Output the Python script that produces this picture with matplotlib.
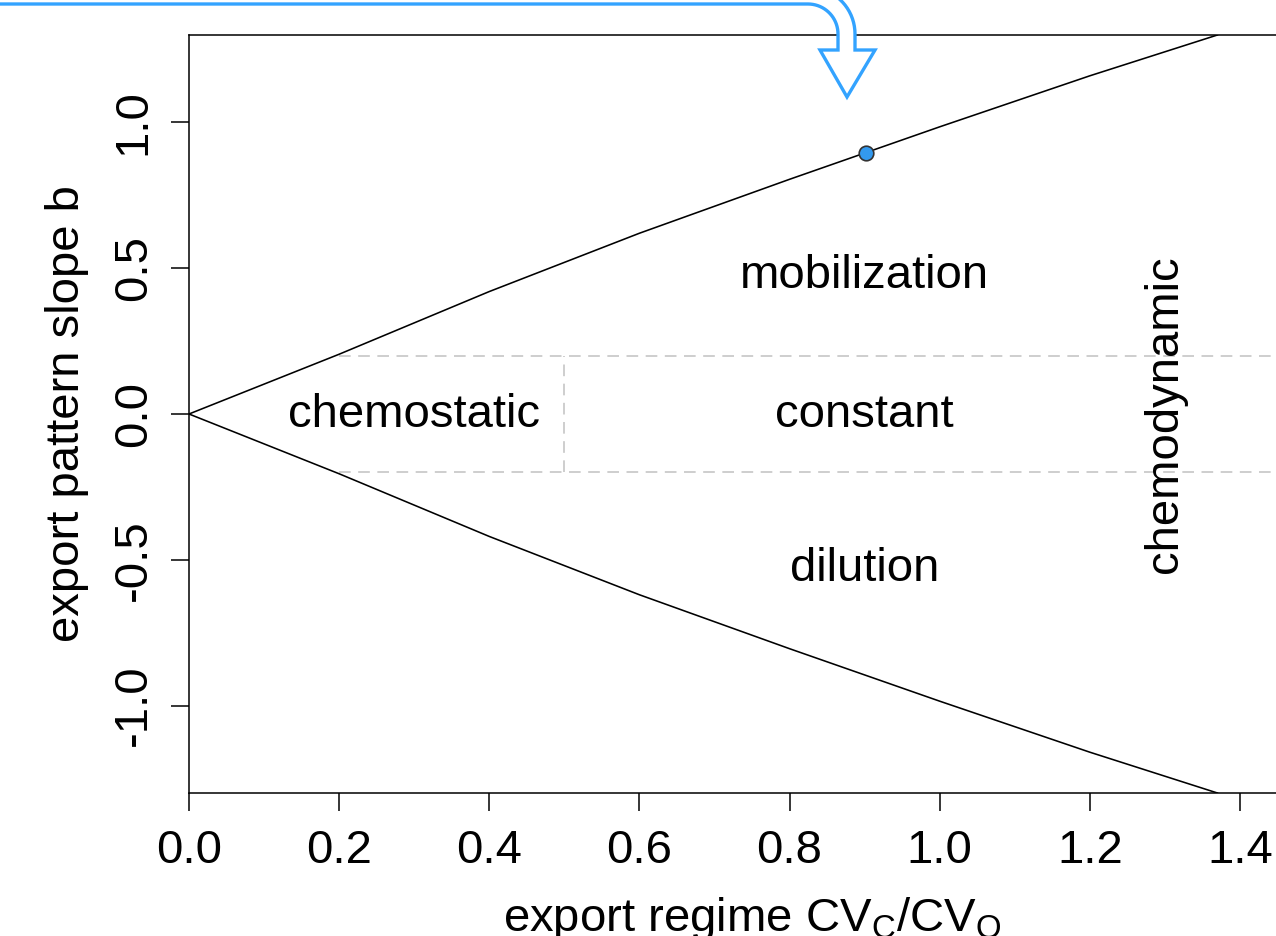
import matplotlib
matplotlib.use("Agg")
import matplotlib.pyplot as plt
import numpy as np
from matplotlib.path import Path
from matplotlib.patches import PathPatch

plt.rcParams['font.family'] = ['Liberation Sans', 'DejaVu Sans']
plt.rcParams['mathtext.fontset'] = 'custom'
plt.rcParams['mathtext.rm'] = 'Liberation Sans'

# boundary of the export regime space
cv_ratio = [0.0, 0.2, 0.4, 0.6, 0.8, 0.9, 1.0, 1.2, 1.37]
b_upper = [0.0, 0.205, 0.42, 0.62, 0.805, 0.895, 0.985, 1.16, 1.3]
b_lower = [-v for v in b_upper]

# highlighted catchment
pt_x = [0.902]
pt_y = [0.894]

# region labels
region_names = ["chemostatic", "constant", "mobilization", "dilution", "chemodynamic"]
region_x = [0.3, 0.9, 0.9, 0.9, 1.3]
region_y = [-0.005, -0.005, 0.475, -0.53, 0.0]
region_rot = [0, 0, 0, 0, 90]

W, H = 1276, 936
fig = plt.figure(figsize=(W / 100, H / 100), dpi=100)
ax = fig.add_axes([189 / W, 1 - 793 / H, (1315 - 189) / W, (793 - 35) / H])

ax.set_xlim(0, 1.5)
ax.set_ylim(-1.3, 1.3)

# class boundaries
dash = dict(color='#c6c6c6', lw=1.2, dashes=(7, 4.5))
ax.plot([0.2, 1.5], [0.2, 0.2], **dash)
ax.plot([0.2, 1.5], [-0.2, -0.2], **dash)
ax.plot([0.5, 0.5], [-0.2, 0.2], **dash)

ax.plot(cv_ratio, b_upper, color='black', lw=1.15)
ax.plot(cv_ratio, b_lower, color='black', lw=1.15)

ax.plot(pt_x, pt_y, 'o', ms=10.5, mfc='#3399ee', mec='#333333', mew=1.2, zorder=5)

for name, x, y, r in zip(region_names, region_x, region_y, region_rot):
    ax.text(x, y, name, ha='center', va='center', rotation=r, fontsize=34)

ax.set_xticks(np.arange(0, 1.41, 0.2))
ax.set_xticklabels(['%.1f' % v for v in np.arange(0, 1.41, 0.2)])
ax.set_yticks([-1.0, -0.5, 0.0, 0.5, 1.0])
ax.set_yticklabels(['-1.0', '-0.5', '0.0', '0.5', '1.0'])
ax.tick_params(axis='both', length=13, width=1.1, labelsize=34, direction='out')
ax.tick_params(axis='x', pad=13)
ax.tick_params(axis='y', pad=11)
for lab in ax.get_yticklabels():
    lab.set_rotation(90)
    lab.set_va('center')

for s in ['left', 'bottom', 'top']:
    ax.spines[s].set_linewidth(1.1)
ax.spines['right'].set_visible(False)

ax.set_xlabel(r'export regime CV$_\mathregular{C}$/CV$_\mathregular{Q}$', fontsize=34, labelpad=16)
ax.set_ylabel('export pattern slope b', fontsize=34, labelpad=16)

# hollow blue arrow pointing at the highlighted point (pixel coords, y down)
def arc(cx, cy, r, a0, a1, n=20):
    t = np.radians(np.linspace(a0, a1, n))
    return list(zip(cx + r * np.cos(t), cy + r * np.sin(t)))

pts = [(-10, 4)]
pts += arc(808, 34, 30, -90, 0)
pts += [(838, 50), (820, 50), (847, 97), (875, 50), (855, 50), (855, 34)]
pts += arc(808, 34, 47, 0, -90)
pts += [(-10, -13), (-10, 4)]
verts = [(x / W, 1 - y / H) for x, y in pts]
codes = [Path.MOVETO] + [Path.LINETO] * (len(verts) - 2) + [Path.CLOSEPOLY]
arrow = PathPatch(Path(verts, codes), transform=fig.transFigure, facecolor='white',
                  edgecolor='#33a3ff', lw=2.4, joinstyle='miter', clip_on=False, zorder=10)
fig.patches.append(arrow)

fig.savefig('out.png', dpi=100)
